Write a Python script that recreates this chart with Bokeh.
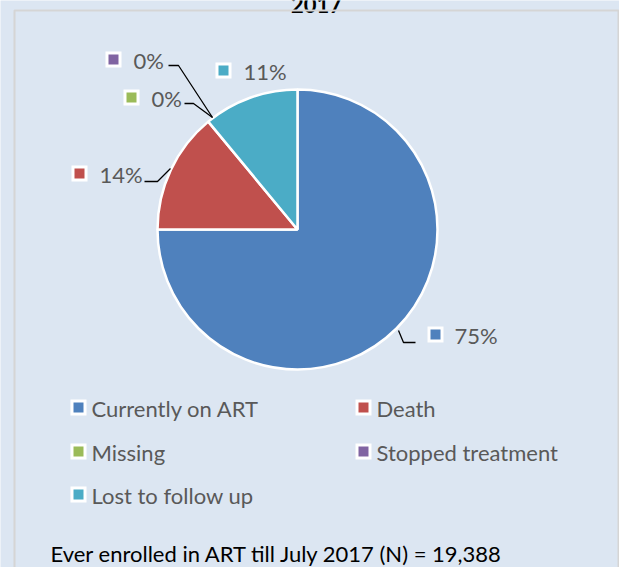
import numpy as np
from bokeh.plotting import figure
from bokeh.models import Range1d, ColumnDataSource
from bokeh.core.properties import value
from bokeh.embed import file_html
from bokeh.resources import INLINE

# ---- data ----
categories = ["Currently on ART", "Death", "Missing", "Stopped treatment", "Lost to follow up"]
percent = [75, 14, 0, 0, 11]
colors = ["#4F81BD", "#C0504D", "#9BBB59", "#8064A2", "#4BACC6"]
title = "2017"
footnote = "Ever enrolled in ART till July 2017 (N) = 19,388"

W, H = 619, 567
BG = "#DCE6F2"
FONT = "Lato"
GREY = "#595959"


def X(rx):
    return rx


def Y(ry):
    return H - ry


p = figure(width=W, height=H, x_range=Range1d(0, W), y_range=Range1d(0, H),
           output_backend="svg", toolbar_location=None, min_border=0,
           x_axis_type=None, y_axis_type=None,
           background_fill_color=BG, border_fill_color=BG, outline_line_color=None)
p.grid.visible = False

# title (cut off at the top edge, as in the reference)
p.text([X(316)], [Y(4)], text=[title], text_font=value(FONT), text_font_size="22px",
       text_font_style="bold", text_color="black", text_baseline="alphabetic", text_align="center")

# frame
p.quad(left=X(14), right=X(618), top=Y(10), bottom=Y(700), fill_alpha=0,
       line_color="#D5D5D5", line_width=2)

# pie
frac = np.array(percent, dtype=float) / sum(percent)
cum = np.concatenate([[0.0], np.cumsum(frac)])
start = np.pi / 2 - 2 * np.pi * cum[:-1]
end = np.pi / 2 - 2 * np.pi * cum[1:]
mask = frac > 0
cx, cy, r = X(297), Y(229), 140
src = ColumnDataSource(dict(
    x=[cx] * int(mask.sum()), y=[cy] * int(mask.sum()),
    start=list(start[mask]), end=list(end[mask]),
    color=[c for c, m in zip(colors, mask) if m]))
p.wedge(x="x", y="y", radius=r, start_angle="start", end_angle="end", direction="clock",
        fill_color="color", line_color="white", line_width=2.5, source=src)

# data labels (layout positions in reference pixels)
lab_marker = [(435, 334), (79, 173), (131, 97), (113, 59), (223, 70)]
lab_text_x = [454, 99, 151, 133, 243]
labels = [f"{v}%" for v in percent]
p.scatter([X(a) for a, b in lab_marker], [Y(b) for a, b in lab_marker], marker="square",
          size=16, fill_color="white", line_color=None)
p.scatter([X(a) for a, b in lab_marker], [Y(b) for a, b in lab_marker], marker="square",
          size=10, fill_color=colors, line_color=None)
p.text([X(t) for t in lab_text_x], [Y(b + 1) for a, b in lab_marker], text=labels,
       text_font=value(FONT), text_font_size="22px", text_color=GREY,
       text_baseline="middle", text_align="left")

# leader lines
leaders = [
    [(398, 330), (403, 342), (415, 342)],
    [(144, 181), (157, 181), (170, 168)],
    [(184, 103), (193, 103), (212, 117)],
    [(168, 65), (178, 65), (212, 117)],
]
p.multi_line([[X(a) for a, b in l] for l in leaders], [[Y(b) for a, b in l] for l in leaders],
             line_color="black", line_width=1.3)

# legend
leg_pos = [(78, 407), (363, 407), (78, 451), (363, 451), (78, 494)]
p.scatter([X(a) for a, b in leg_pos], [Y(b) for a, b in leg_pos], marker="square",
          size=16, fill_color="white", line_color=None)
p.scatter([X(a) for a, b in leg_pos], [Y(b) for a, b in leg_pos], marker="square",
          size=10, fill_color=colors, line_color=None)
p.text([X(a + 13) for a, b in leg_pos], [Y(b + 1) for a, b in leg_pos], text=categories,
       text_font=value(FONT), text_font_size="22px", text_color=GREY,
       text_baseline="middle", text_align="left")

# footnote
p.text([X(50)], [Y(553)], text=[footnote], text_font=value(FONT), text_font_size="22px",
       text_color="black", text_baseline="middle", text_align="left")

open("out.html", "w").write(file_html(p, INLINE))
